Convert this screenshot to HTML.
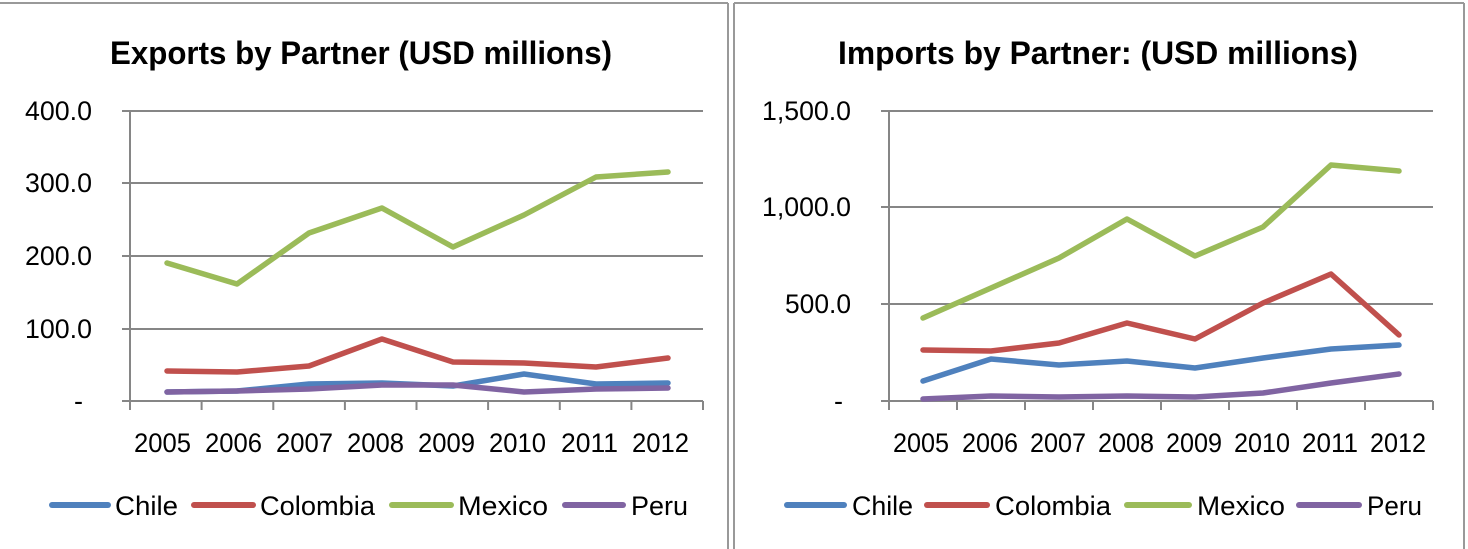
<!DOCTYPE html>
<html><head><meta charset="utf-8"><style>
body{margin:0;background:#fff}
svg{display:block}
text{font-family:"Liberation Sans Narrow","Liberation Sans",sans-serif;fill:#000}
.t{font-size:32px;font-weight:bold}
.a{font-size:27px}
.g{stroke:#868686;stroke-width:2;fill:none}
.s{fill:none;stroke-width:5.5;stroke-linecap:round;stroke-linejoin:round}
</style></head><body>
<svg width="1468" height="549" viewBox="0 0 1468 549">
<line x1="0" y1="3" x2="728" y2="3" stroke="#999" stroke-width="2"/>
<line x1="728" y1="3" x2="728" y2="549" stroke="#999" stroke-width="2"/>
<line x1="734" y1="3" x2="734" y2="549" stroke="#999" stroke-width="2"/>
<line x1="734" y1="3" x2="1464" y2="3" stroke="#999" stroke-width="2"/>
<line x1="1464" y1="3" x2="1464" y2="549" stroke="#999" stroke-width="2"/>

<!-- LEFT CHART -->
<text class="t" x="110" y="64" textLength="502" lengthAdjust="spacingAndGlyphs">Exports by Partner (USD millions)</text>
<g class="g">
<line x1="122" y1="111" x2="703" y2="111"/>
<line x1="122" y1="183" x2="703" y2="183"/>
<line x1="122" y1="256" x2="703" y2="256"/>
<line x1="122" y1="329" x2="703" y2="329"/>
<line x1="122" y1="401" x2="703" y2="401"/>
<line x1="130" y1="111" x2="130" y2="410"/>
<line x1="201.6" y1="401" x2="201.6" y2="410"/><line x1="273.3" y1="401" x2="273.3" y2="410"/>
<line x1="344.9" y1="401" x2="344.9" y2="410"/><line x1="416.5" y1="401" x2="416.5" y2="410"/>
<line x1="488.1" y1="401" x2="488.1" y2="410"/><line x1="559.8" y1="401" x2="559.8" y2="410"/>
<line x1="631.4" y1="401" x2="631.4" y2="410"/><line x1="703" y1="401" x2="703" y2="410"/>
</g>
<g class="a">
<text x="25" y="120" textLength="67" lengthAdjust="spacingAndGlyphs">400.0</text>
<text x="25" y="192" textLength="67" lengthAdjust="spacingAndGlyphs">300.0</text>
<text x="25" y="265" textLength="67" lengthAdjust="spacingAndGlyphs">200.0</text>
<text x="25" y="338" textLength="67" lengthAdjust="spacingAndGlyphs">100.0</text>
<text x="74" y="410">-</text>
</g>
<g class="a">
<text x="134" y="452" textLength="57" lengthAdjust="spacingAndGlyphs">2005</text>
<text x="205" y="452" textLength="57" lengthAdjust="spacingAndGlyphs">2006</text>
<text x="276" y="452" textLength="57" lengthAdjust="spacingAndGlyphs">2007</text>
<text x="347" y="452" textLength="57" lengthAdjust="spacingAndGlyphs">2008</text>
<text x="418" y="452" textLength="57" lengthAdjust="spacingAndGlyphs">2009</text>
<text x="489" y="452" textLength="57" lengthAdjust="spacingAndGlyphs">2010</text>
<text x="561" y="452" textLength="57" lengthAdjust="spacingAndGlyphs">2011</text>
<text x="632" y="452" textLength="57" lengthAdjust="spacingAndGlyphs">2012</text>
</g>
<polyline class="s" stroke="#9BBB59" points="167,263 237,284 309,233 382,208 453,247 524,215 596,177 668,172"/>
<polyline class="s" stroke="#C0504D" points="167,371 237,372 309,366 382,339 453,362 524,363 596,367 668,358"/>
<polyline class="s" stroke="#4F81BD" points="167,392 237,391 309,384 382,383 453,386 524,374 596,384 668,383"/>
<polyline class="s" stroke="#8064A2" points="167,392 237,391 309,389 382,385 453,385 524,392 596,389 668,388"/>
<g class="a">
<line x1="52" y1="505" x2="108" y2="505" stroke="#4F81BD" stroke-width="6" stroke-linecap="round"/>
<text x="115" y="515" textLength="63" lengthAdjust="spacingAndGlyphs">Chile</text>
<line x1="194" y1="505" x2="253" y2="505" stroke="#C0504D" stroke-width="6" stroke-linecap="round"/>
<text x="260" y="515" textLength="115" lengthAdjust="spacingAndGlyphs">Colombia</text>
<line x1="392" y1="505" x2="451" y2="505" stroke="#9BBB59" stroke-width="6" stroke-linecap="round"/>
<text x="458" y="515" textLength="90" lengthAdjust="spacingAndGlyphs">Mexico</text>
<line x1="565" y1="505" x2="623" y2="505" stroke="#8064A2" stroke-width="6" stroke-linecap="round"/>
<text x="631" y="515" textLength="57" lengthAdjust="spacingAndGlyphs">Peru</text>
</g>

<!-- RIGHT CHART -->
<text class="t" x="838" y="64" textLength="520" lengthAdjust="spacingAndGlyphs">Imports by Partner: (USD millions)</text>
<g class="g">
<line x1="881" y1="111" x2="1433" y2="111"/>
<line x1="881" y1="207" x2="1433" y2="207"/>
<line x1="881" y1="304" x2="1433" y2="304"/>
<line x1="881" y1="401" x2="1433" y2="401"/>
<line x1="889" y1="111" x2="889" y2="410"/>
<line x1="957" y1="401" x2="957" y2="410"/><line x1="1025" y1="401" x2="1025" y2="410"/>
<line x1="1093" y1="401" x2="1093" y2="410"/><line x1="1161" y1="401" x2="1161" y2="410"/>
<line x1="1229" y1="401" x2="1229" y2="410"/><line x1="1297" y1="401" x2="1297" y2="410"/>
<line x1="1365" y1="401" x2="1365" y2="410"/><line x1="1433" y1="401" x2="1433" y2="410"/>
</g>
<g class="a">
<text x="762" y="120" textLength="89" lengthAdjust="spacingAndGlyphs">1,500.0</text>
<text x="762" y="216" textLength="89" lengthAdjust="spacingAndGlyphs">1,000.0</text>
<text x="785" y="313" textLength="66" lengthAdjust="spacingAndGlyphs">500.0</text>
<text x="834" y="410">-</text>
</g>
<g class="a">
<text x="893" y="452" textLength="56" lengthAdjust="spacingAndGlyphs">2005</text>
<text x="962" y="452" textLength="56" lengthAdjust="spacingAndGlyphs">2006</text>
<text x="1030" y="452" textLength="56" lengthAdjust="spacingAndGlyphs">2007</text>
<text x="1098" y="452" textLength="56" lengthAdjust="spacingAndGlyphs">2008</text>
<text x="1166" y="452" textLength="56" lengthAdjust="spacingAndGlyphs">2009</text>
<text x="1234" y="452" textLength="56" lengthAdjust="spacingAndGlyphs">2010</text>
<text x="1302" y="452" textLength="56" lengthAdjust="spacingAndGlyphs">2011</text>
<text x="1370" y="452" textLength="56" lengthAdjust="spacingAndGlyphs">2012</text>
</g>
<polyline class="s" stroke="#9BBB59" points="923,318 991,288 1059,258 1127,219 1195,256 1263,227 1331,165 1399,171"/>
<polyline class="s" stroke="#C0504D" points="923,350 991,351 1059,343 1127,323 1195,339 1263,303 1331,274 1399,335"/>
<polyline class="s" stroke="#4F81BD" points="923,381 991,359 1059,365 1127,361 1195,368 1263,358 1331,349 1399,345"/>
<polyline class="s" stroke="#8064A2" points="923,399 991,396 1059,397 1127,396 1195,397 1263,393 1331,383 1399,374"/>
<g class="a">
<line x1="787" y1="505" x2="844" y2="505" stroke="#4F81BD" stroke-width="6" stroke-linecap="round"/>
<text x="852" y="515" textLength="61" lengthAdjust="spacingAndGlyphs">Chile</text>
<line x1="927" y1="505" x2="987" y2="505" stroke="#C0504D" stroke-width="6" stroke-linecap="round"/>
<text x="995" y="515" textLength="116" lengthAdjust="spacingAndGlyphs">Colombia</text>
<line x1="1127" y1="505" x2="1189" y2="505" stroke="#9BBB59" stroke-width="6" stroke-linecap="round"/>
<text x="1197" y="515" textLength="88" lengthAdjust="spacingAndGlyphs">Mexico</text>
<line x1="1299" y1="505" x2="1359" y2="505" stroke="#8064A2" stroke-width="6" stroke-linecap="round"/>
<text x="1367" y="515" textLength="55" lengthAdjust="spacingAndGlyphs">Peru</text>
</g>
</svg>
</body></html>
